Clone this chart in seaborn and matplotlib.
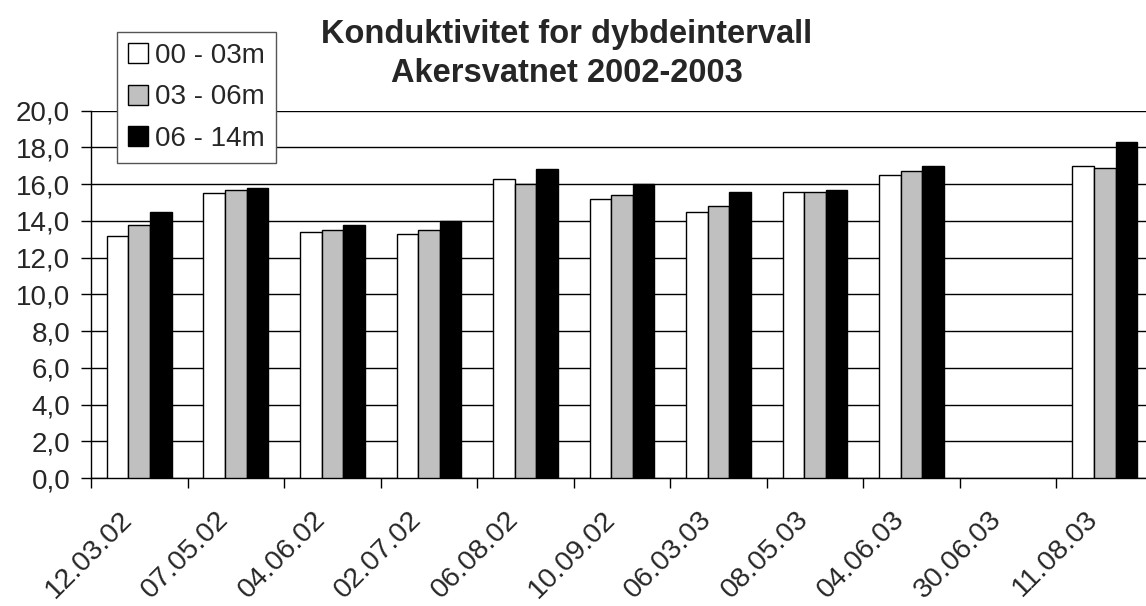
import numpy as np
import pandas as pd
import matplotlib
matplotlib.use("Agg")
import matplotlib.pyplot as plt
import matplotlib.transforms as mtransforms
import seaborn as sns

datoer = ["12.03.02", "07.05.02", "04.06.02", "02.07.02", "06.08.02", "10.09.02",
          "06.03.03", "08.05.03", "04.06.03", "30.06.03", "11.08.03"]
dyp_00_03 = [13.2, 15.5, 13.4, 13.3, 16.3, 15.2, 14.5, 15.6, 16.5, np.nan, 17.0]
dyp_03_06 = [13.8, 15.7, 13.5, 13.5, 16.0, 15.4, 14.8, 15.6, 16.7, np.nan, 16.9]
dyp_06_14 = [14.5, 15.8, 13.8, 14.0, 16.8, 16.0, 15.6, 15.7, 17.0, np.nan, 18.3]
intervaller = ["00 - 03m", "03 - 06m", "06 - 14m"]
farger = ["#ffffff", "#c0c0c0", "#000000"]

# Long form table
rader = []
for navn, verdier in zip(intervaller, [dyp_00_03, dyp_03_06, dyp_06_14]):
    for d, v in zip(datoer, verdier):
        rader.append({"Dato": d, "Intervall": navn, "Konduktivitet": v})
df = pd.DataFrame(rader).dropna()

sns.set_style("ticks")
plt.rcParams["font.family"] = ["Liberation Sans", "DejaVu Sans"]

fig = plt.figure(figsize=(11.46, 6.06), dpi=100)
ax = fig.add_axes([91 / 1146, 1 - 478 / 606, 1062 / 1146, (478 - 110.7) / 606])

sns.barplot(data=df, x="Dato", y="Konduktivitet", hue="Intervall",
            order=datoer, hue_order=intervaller, palette=farger,
            width=0.67, errorbar=None, edgecolor="black", linewidth=1,
            ax=ax, zorder=3)

ax.set_xlim(-0.5, len(datoer) - 0.5)
ax.set_ylim(0, 20)
ax.set_yticks(np.arange(0, 20.1, 2))
ax.set_yticklabels([f"{v:.1f}".replace(".", ",") for v in np.arange(0, 20.1, 2)])
ax.yaxis.grid(True, color="black", linewidth=1, zorder=0)
ax.set_axisbelow(True)
ax.set_xlabel("")
ax.set_ylabel("")

for s in ["top", "right"]:
    ax.spines[s].set_visible(False)
for s in ["left", "bottom"]:
    ax.spines[s].set_color("black")
    ax.spines[s].set_linewidth(1)

# tick marks between categories, labels at the centres
ax.set_xticks(np.arange(len(datoer)))
ax.set_xticklabels(datoer, rotation=45, ha="right", va="center",
                   rotation_mode="anchor")
ax.set_xticks(np.arange(-0.5, len(datoer)), minor=True)
ax.tick_params(axis="x", which="major", length=0, pad=27, labelsize=20.5)
ax.tick_params(axis="x", which="minor", length=7, width=1, color="black")
ax.tick_params(axis="y", length=7, width=1, color="black", pad=8, labelsize=20)
flytt = mtransforms.ScaledTranslation(-11 / 100, 0, fig.dpi_scale_trans)
for lbl in ax.get_xticklabels():
    lbl.set_transform(lbl.get_transform() + flytt)

ax.legend_.remove()
handles, labels = ax.get_legend_handles_labels()
leg = fig.legend(handles, labels, loc="upper left",
                 bbox_to_anchor=(117 / 1146, 1 - 32 / 606),
                 fontsize=20, frameon=True, fancybox=False, framealpha=1,
                 edgecolor="#555555", handlelength=0.72, handleheight=0.72,
                 handletextpad=0.25, labelspacing=0.55, borderpad=0.4,
                 borderaxespad=0)
leg.get_frame().set_linewidth(1)

fig.suptitle("Konduktivitet for dybdeintervall\nAkersvatnet 2002-2003",
             x=567 / 1146, y=1 - 19 / 606, fontsize=23.5, fontweight="bold",
             linespacing=1.35, va="top")

fig.savefig("out.png", dpi=100)
